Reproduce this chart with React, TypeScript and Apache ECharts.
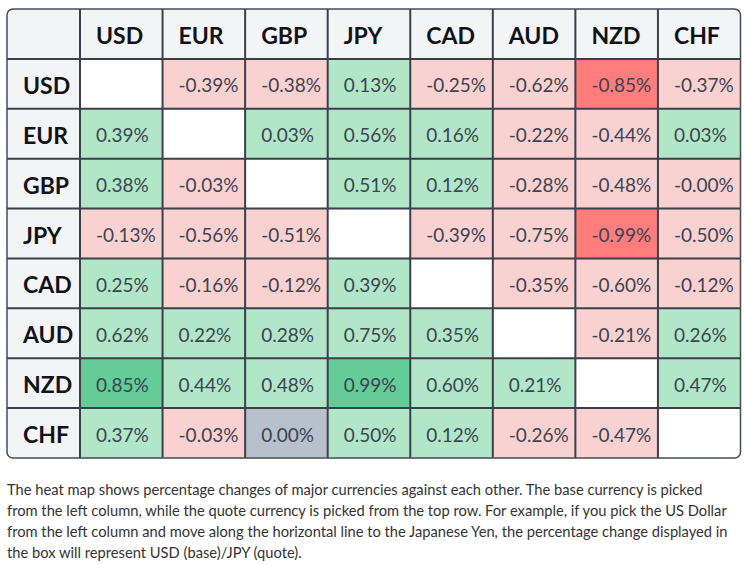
import React, { useEffect, useRef } from 'react';
import * as echarts from 'echarts';

// Currencies: rows are the base currency, columns the quote currency.
const currencies = ['USD', 'EUR', 'GBP', 'JPY', 'CAD', 'AUD', 'NZD', 'CHF'];

// Percentage change of base vs quote (null on the diagonal).
const usdRow = [null, -0.39, -0.38, 0.13, -0.25, -0.62, -0.85, -0.37];
const eurRow = [0.39, null, 0.03, 0.56, 0.16, -0.22, -0.44, 0.03];
const gbpRow = [0.38, -0.03, null, 0.51, 0.12, -0.28, -0.48, -0.004];
const jpyRow = [-0.13, -0.56, -0.51, null, -0.39, -0.75, -0.99, -0.5];
const cadRow = [0.25, -0.16, -0.12, 0.39, null, -0.35, -0.6, -0.12];
const audRow = [0.62, 0.22, 0.28, 0.75, 0.35, null, -0.21, 0.26];
const nzdRow = [0.85, 0.44, 0.48, 0.99, 0.6, 0.21, null, 0.47];
const chfRow = [0.37, -0.03, 0.0, 0.5, 0.12, -0.26, -0.47, null];

const matrix = [usdRow, eurRow, gbpRow, jpyRow, cadRow, audRow, nzdRow, chfRow];

const description = [
  'The heat map shows percentage changes of major currencies against each other. The base currency is picked',
  'from the left column, while the quote currency is picked from the top row. For example, if you pick the US Dollar',
  'from the left column and move along the horizontal line to the Japanese Yen, the percentage change displayed in',
  'the box will represent USD (base)/JPY (quote).',
];

const BORDER = '#3a3f4a';
const HEADER_BG = '#f3f4f6';
const FONT = 'Lato, "Noto Sans", sans-serif';
const RADIUS = 6;

function cellColor(v: number): string {
  if (v == null || isNaN(v)) return '#ffffff';
  if (v === 0) return '#b8c0cc';
  if (v <= -0.8) return '#ff7d7d';
  if (v < 0) return '#fad1d1';
  if (v >= 0.8) return '#64cc96';
  return '#b1e7c8';
}

function cornerRadius(gridIdx: number, x: number, y: number, lastX: number, lastY: number) {
  const r = [0, 0, 0, 0];
  if (gridIdx === 0 && x === 0 && y === 0) r[0] = RADIUS;
  if (gridIdx === 1 && x === lastX && y === 0) r[1] = RADIUS;
  if (gridIdx === 1 && x === lastX && y === lastY) r[2] = RADIUS;
  if (gridIdx === 0 && x === 0 && y === lastY) r[3] = RADIUS;
  return r;
}

// Draws one table cell: fill, inner grid lines (left/top), and left-padded text.
function makeCell(
  api: any,
  gridIdx: number,
  lastX: number,
  lastY: number,
  fill: string,
  text: string,
  header: boolean,
) {
  const x = api.value(0);
  const y = api.value(1);
  const c = api.coord([x, y]);
  const s = api.size([1, 1]);
  const x0 = c[0] - s[0] / 2;
  const y0 = c[1] - s[1] / 2;
  const children: any[] = [
    {
      type: 'rect',
      shape: { x: x0, y: y0, width: s[0], height: s[1], r: cornerRadius(gridIdx, x, y, lastX, lastY) },
      style: { fill },
    },
  ];
  if (!(gridIdx === 0 && x === 0)) {
    children.push({
      type: 'line',
      shape: { x1: x0, y1: y0, x2: x0, y2: y0 + s[1] },
      style: { stroke: BORDER, lineWidth: 2 },
    });
  }
  if (y !== 0) {
    children.push({
      type: 'line',
      shape: { x1: x0, y1: y0, x2: x0 + s[0], y2: y0 },
      style: { stroke: BORDER, lineWidth: 2 },
    });
  }
  if (text) {
    children.push({
      type: 'text',
      style: {
        x: x0 + 16,
        y: c[1] + 1,
        text,
        fill: header ? '#111318' : '#3c4452',
        fontSize: header ? 23 : 19,
        fontWeight: header ? 'bold' : 'normal',
        fontFamily: FONT,
        align: 'left',
        verticalAlign: 'middle',
      },
    });
  }
  return { type: 'group', children };
}

export default function App() {
  const ref = useRef<HTMLDivElement>(null);

  useEffect(() => {
    if (!ref.current) return;
    const chart = echarts.init(ref.current, null, { renderer: 'svg' });

    const rowCats = ['', ...currencies];
    const lastX = currencies.length - 1;
    const lastY = currencies.length;

    const bodyData: any[] = [];
    matrix.forEach((row, r) => {
      row.forEach((v, c) => {
        bodyData.push([c, r + 1, v == null ? '-' : v]);
      });
    });
    const headerData = currencies.map((_, i) => [i, 0]);
    const labelData = rowCats.map((_, i) => [0, i]);

    const option: any = {
      animation: false,
      backgroundColor: '#ffffff',
      grid: [
        { left: 7, top: 9, width: 73, height: 449 },
        { left: 80, top: 9, width: 660.5, height: 449 },
      ],
      xAxis: [
        { type: 'category', gridIndex: 0, data: [''], show: false },
        { type: 'category', gridIndex: 1, data: currencies, show: false },
      ],
      yAxis: [
        { type: 'category', gridIndex: 0, data: rowCats, inverse: true, show: false },
        { type: 'category', gridIndex: 1, data: rowCats, inverse: true, show: false },
      ],
      series: [
        {
          type: 'custom',
          name: 'base',
          xAxisIndex: 0,
          yAxisIndex: 0,
          data: labelData,
          renderItem: (_p: any, api: any) =>
            makeCell(api, 0, 0, lastY, HEADER_BG, rowCats[api.value(1)], true),
        },
        {
          type: 'custom',
          name: 'quote',
          xAxisIndex: 1,
          yAxisIndex: 1,
          data: headerData,
          renderItem: (_p: any, api: any) =>
            makeCell(api, 1, lastX, lastY, HEADER_BG, currencies[api.value(0)], true),
        },
        {
          type: 'custom',
          name: 'change',
          xAxisIndex: 1,
          yAxisIndex: 1,
          data: bodyData,
          renderItem: (_p: any, api: any) => {
            const v = api.value(2);
            const has = v != null && !isNaN(v);
            return makeCell(api, 1, lastX, lastY, cellColor(v), has ? `${v.toFixed(2)}%` : '', false);
          },
        },
      ],
      graphic: [
        {
          type: 'rect',
          z: 100,
          shape: { x: 7, y: 9, width: 733.5, height: 449, r: RADIUS },
          style: { fill: 'none', stroke: '#454b56', lineWidth: 1.5 },
        },
        {
          type: 'text',
          z: 100,
          left: 7,
          top: 478,
          style: {
            text: description.join('\n'),
            fontSize: 14.7,
            lineHeight: 21,
            fontFamily: FONT,
            fill: '#333333',
          },
        },
      ],
    };

    chart.setOption(option);
    return () => chart.dispose();
  }, []);

  return (
    <div
      ref={ref}
      style={{ position: 'fixed', left: 0, top: 0, width: 745, height: 564 }}
    />
  );
}
